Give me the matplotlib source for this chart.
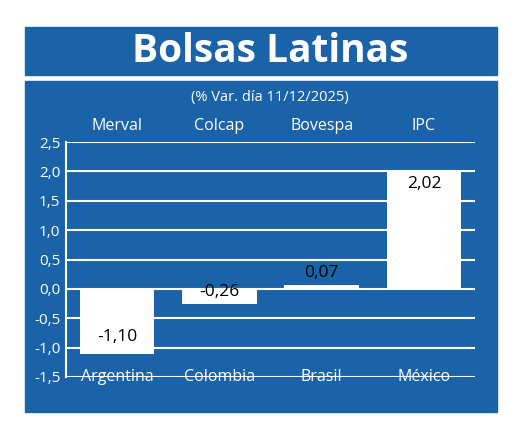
import matplotlib.pyplot as plt
from matplotlib.patches import Rectangle

indices = ["Merval", "Colcap", "Bovespa", "IPC"]
countries = ["Argentina", "Colombia", "Brasil", "México"]
values = [-1.10, -0.26, 0.07, 2.02]
yticks = [-1.5, -1.0, -0.5, 0.0, 0.5, 1.0, 1.5, 2.0, 2.5]

BLUE = "#1b63a9"
W, H = 520, 432
fig = plt.figure(figsize=(W/100, H/100), dpi=100)
fig.patch.set_facecolor("white")
plt.rcParams['font.family'] = ['Open Sans', 'DejaVu Sans']

def box(x0, y0, x1, y1):
    fig.patches.append(Rectangle((x0/W, 1-y1/H), (x1-x0)/W, (y1-y0)/H,
                                 transform=fig.transFigure, color=BLUE, zorder=-5))
box(25, 27, 497, 75)
box(25, 81, 497, 412)
fig.text(270/W, 1-52/H, "Bolsas Latinas", color="white", fontsize=28,
         fontweight="bold", ha="center", va="center")
fig.text(270/W, 1-97/H, "(% Var. día 11/12/2025)", color="white", fontsize=10.5,
         ha="center", va="center")

ax = fig.add_axes([66/W, 1-377/H, (475-66)/W, (377-142)/H])
ax.set_zorder(2)
ax.set_facecolor(BLUE)
ax.set_xlim(-0.5, 3.5)
ax.set_ylim(-1.5, 2.5)
ax.set_yticks(yticks)
ax.set_yticklabels([f"{t:.1f}".replace(".", ",") for t in yticks], color="white", fontsize=11)
for t in yticks:
    ax.axhline(t, color="white", lw=1.5, zorder=1)
for s in ["top", "right", "bottom"]:
    ax.spines[s].set_visible(False)
ax.spines["left"].set_color("white")
ax.spines["left"].set_linewidth(1.5)
ax.tick_params(axis="y", length=0, pad=4)
ax.set_xticks(range(4))
ax.set_xticklabels(countries, color="white", fontsize=11.5)
ax.tick_params(axis="x", length=0, pad=-6)
ax.bar(range(4), values, width=0.73, color="white", zorder=2)
for i, v in enumerate(values):
    ly = v - 0.23 if v > 1 else v + 0.2 if v > -1 else v + 0.28
    ax.text(i, ly, f"{v:.2f}".replace(".", ","), ha="center", va="center",
            fontsize=12.5, color="black", zorder=3)
    ax.text(i, 2.77, indices[i], ha="center", va="center", color="white", fontsize=11.5)

fig.savefig("out.png", dpi=100)
